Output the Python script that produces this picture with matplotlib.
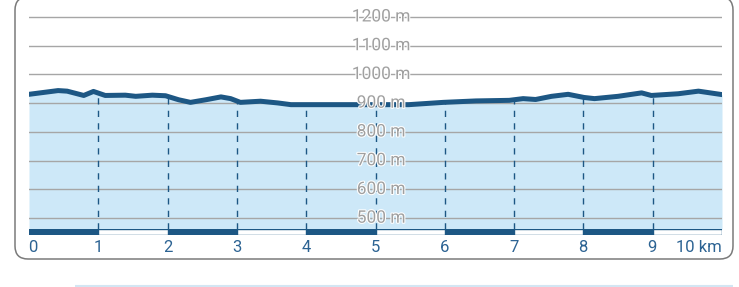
import matplotlib
matplotlib.use("Agg")
import matplotlib.pyplot as plt
import matplotlib.patheffects as pe
from matplotlib.patches import FancyBboxPatch, Rectangle
import numpy as np

plt.rcParams['font.family'] = ['Roboto', 'DejaVu Sans']

# Data
distance_km = [0.0, 0.42, 0.55, 0.79, 0.93, 1.10, 1.39, 1.54, 1.78, 1.97, 2.16, 2.33,
               2.55, 2.77, 2.91, 3.05, 3.34, 3.59, 3.78, 4.40, 4.79, 5.48, 5.98, 6.45,
               6.93, 7.13, 7.31, 7.54, 7.78, 8.01, 8.16, 8.50, 8.84, 8.98, 9.37, 9.66, 10.0]
elevation_m = [931, 944, 942, 927, 941, 927, 928, 924, 928, 926, 912, 903,
               912, 922, 916, 903, 907, 901, 895, 895, 895, 895, 903, 908,
               910, 916, 913, 924, 931, 920, 916, 924, 936, 927, 933, 942, 930]
km_ticks = [0, 1, 2, 3, 4, 5, 6, 7, 8, 9]
km_labels = ["0", "1", "2", "3", "4", "5", "6", "7", "8", "9"]
elev_ticks = [500, 600, 700, 800, 900, 1000, 1100, 1200]
elev_labels = ["500 m", "600 m", "700 m", "800 m", "900 m", "1000 m", "1100 m", "1200 m"]

W, H = 739, 287
fig = plt.figure(figsize=(W / 100, H / 100), dpi=100)

def fx(px):
    return px / W

def fy(py):
    return 1 - py / H

DARK = "#1d5784"
FILL = "#cde8f8"
GRID = "#a6a6a6"
TEXT_GRAY = "#a0a0a0"
TICK_BLUE = "#2c6393"

# Background pixel axes for the frame
bg = fig.add_axes([0, 0, 1, 1])
bg.set_xlim(0, W)
bg.set_ylim(H, 0)
bg.axis("off")
frame = FancyBboxPatch((15, -3), 718, 262, boxstyle="round,pad=0,rounding_size=13",
                       facecolor="white", edgecolor="#7a7a7a", linewidth=1.1)
bg.add_patch(frame)
bg.plot([75, 733], [286.3, 286.3], color="#d3e6f3", lw=1.5, solid_capstyle="butt")

# Main plot axes
left_px, right_px = 29, 722
top_px, bot_px = 5, 229
ax = fig.add_axes([fx(left_px), fy(bot_px), fx(right_px - left_px), (bot_px - top_px) / H])
ymin = 900 - (bot_px - 103) * (100 / 28.8)
ymax = 1200 + (17 - top_px) * (100 / 28.8)
ax.set_xlim(0, 10)
ax.set_ylim(ymin, ymax)
ax.axis("off")

ax.fill_between(distance_km, elevation_m, ymin, color=FILL, lw=0, zorder=1)
for e in elev_ticks:
    ax.axhline(e, color=GRID, lw=1.0, zorder=2)
for k in km_ticks[1:]:
    top = float(np.interp(k, distance_km, elevation_m))
    ax.plot([k, k], [ymin, top], color=DARK, lw=1.0, ls=(0, (4.5, 4.5)), zorder=3)
ax.plot(distance_km, elevation_m, color=DARK, lw=3.6, solid_capstyle="round",
        solid_joinstyle="round", zorder=4)
for e, lab in zip(elev_ticks, elev_labels):
    ax.text(5.08, e, lab, ha="center", va="center", fontsize=12.5, color=TEXT_GRAY,
            zorder=5, path_effects=[pe.withStroke(linewidth=1.5, foreground="white")])

# km strip
sax = fig.add_axes([fx(left_px), fy(235), fx(right_px - left_px), 6 / H])
sax.set_xlim(0, 10)
sax.set_ylim(0, 1)
sax.axis("off")
sax.add_patch(Rectangle((0, 0), 10, 1, facecolor="white", edgecolor=DARK, lw=1.0))
for k in range(0, 10, 2):
    sax.add_patch(Rectangle((k, 0), 1, 1, facecolor=DARK, edgecolor=DARK, lw=1.0))

# km labels
for k, lab in zip(km_ticks, km_labels):
    xpx = left_px + k * 69.25
    if k == 0:
        xpx = 33
    bg.text(xpx, 247, lab, ha="center", va="center", fontsize=12, color=TICK_BLUE)
bg.text(722, 247, "10 km", ha="right", va="center", fontsize=12, color=TICK_BLUE)

fig.savefig("out.png", dpi=100)
